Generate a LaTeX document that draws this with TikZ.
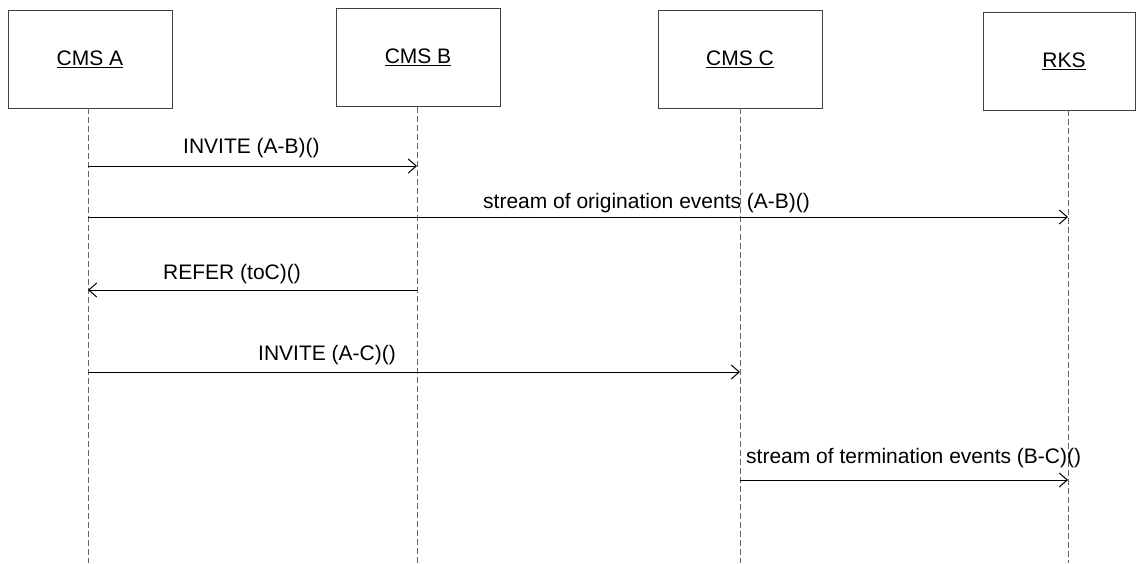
\documentclass[tikz,border=0pt]{standalone}
\usepackage{fontspec}
\setmainfont{Liberation Sans}
\usetikzlibrary{arrows.meta}
\begin{document}
\begin{tikzpicture}[x=1pt,y=-1pt,
  actor/.style={draw=black!75,line width=1pt,minimum width=164pt,minimum height=98pt,inner sep=0pt,font=\fontsize{21}{24}\selectfont},
  lifeline/.style={draw=black!60,line width=1pt,dash pattern=on 6pt off 3pt},
  msg/.style={draw=black,line width=1pt,-{Straight Barb[length=8pt,width=14pt,line width=1pt]}},
  lbl/.style={anchor=base west,inner sep=0pt,font=\fontsize{21}{24}\selectfont}]
\useasboundingbox (0,0) rectangle (1136,563);
\fill[white] (0,0) rectangle (1136,563);
% actors
\node[actor] (A) at (90,59) {\underline{CMS A}};
\node[actor] (B) at (418,57.5) {\underline{CMS B}};
\node[actor] (C) at (740,59) {\underline{CMS C}};
\node[actor,minimum width=152pt] (R) at (1059.5,61) {\hspace{9pt}\underline{RKS}};
% lifelines
\coordinate (At) at (88,108); \coordinate (Ab) at (88,563);
\coordinate (Bt) at (417,107); \coordinate (Bb) at (417,563);
\coordinate (Ct) at (740,108); \coordinate (Cb) at (740,563);
\coordinate (Rt) at (1068,110); \coordinate (Rb) at (1068,563);
\draw[lifeline] (At) -- (Ab);
\draw[lifeline] (Bt) -- (Bb);
\draw[lifeline] (Ct) -- (Cb);
\draw[lifeline] (Rt) -- (Rb);
% message points
\coordinate (m1a) at (88,166); \coordinate (m1b) at (417,166);
\coordinate (m2a) at (88,217); \coordinate (m2b) at (1068,217);
\coordinate (m3b) at (417,290); \coordinate (m3a) at (88,290);
\coordinate (m4a) at (88,372); \coordinate (m4c) at (740,372);
\coordinate (m5c) at (740,480); \coordinate (m5r) at (1068,480);
\draw[msg] (m1a) -- (m1b);
\draw[msg] (m2a) -- (m2b);
\draw[msg] (m3b) -- (m3a);
\draw[msg] (m4a) -- (m4c);
\draw[msg] (m5c) -- (m5r);
% labels
\node[lbl] (l1) at (183,153) {INVITE (A-B)()};
\node[lbl] (l2) at (483,208) {stream of origination events (A-B)()};
\node[lbl] (l3) at (163,279) {REFER (toC)()};
\node[lbl] (l4) at (258,360) {INVITE (A-C)()};
\node[lbl] (l5) at (746,463) {stream of termination events (B-C)()};
\end{tikzpicture}
\end{document}
